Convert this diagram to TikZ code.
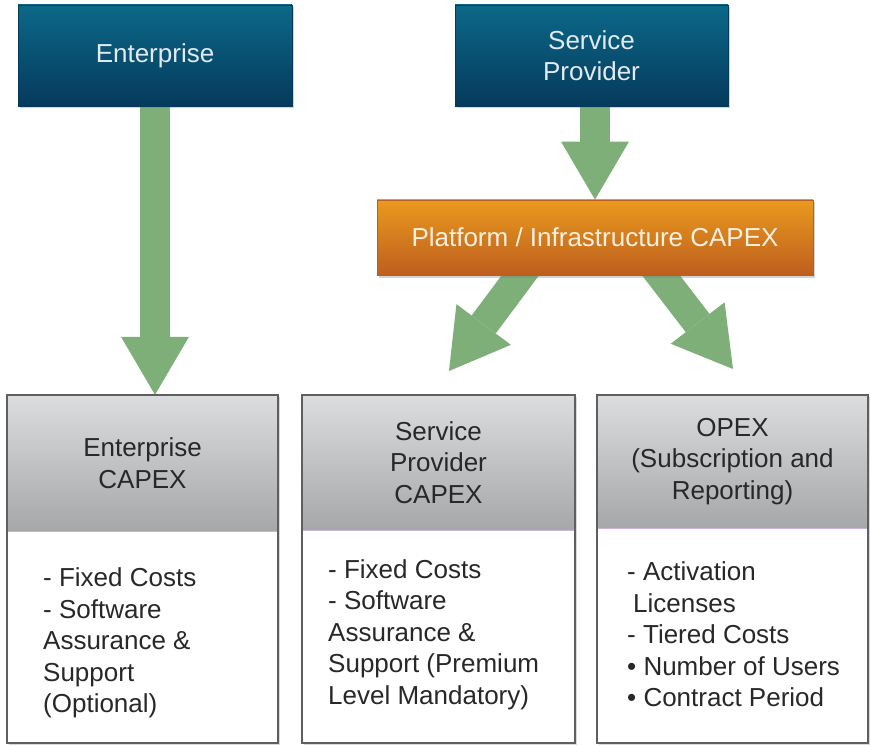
\documentclass[tikz,border=0pt]{standalone}
\usepackage{fontspec}
\setmainfont{Liberation Sans}
\usetikzlibrary{arrows.meta,shadows,calc}
\pgfdeclarelayer{background}
\pgfsetlayers{background,main}
\definecolor{tealtop}{RGB}{12,104,136}
\definecolor{tealbot}{RGB}{5,58,92}
\definecolor{toptext}{RGB}{226,234,240}
\definecolor{orangetop}{RGB}{233,154,30}
\definecolor{orangebot}{RGB}{190,94,30}
\definecolor{plattext}{RGB}{250,240,225}
\definecolor{hdrtop}{RGB}{220,221,223}
\definecolor{hdrbot}{RGB}{166,167,169}
\definecolor{boxedge}{RGB}{95,95,98}
\definecolor{sepline}{RGB}{205,180,215}
\definecolor{arrowgreen}{RGB}{126,175,121}
\definecolor{darktext}{RGB}{40,40,40}
\newcommand\dfont{\fontsize{26}{31.5}\selectfont}
\tikzset{
  topbox/.style={rectangle, inner sep=0pt, top color=tealtop, bottom color=tealbot,
    draw=tealbot, line width=0.8pt, text=toptext, font=\dfont, align=center,
    drop shadow={opacity=0.35, shadow xshift=2pt, shadow yshift=-2.5pt}},
  platbox/.style={rectangle, inner sep=0pt, top color=orangetop, bottom color=orangebot,
    draw=orangebot, line width=0.8pt, text=plattext, font=\dfont, align=center,
    drop shadow={opacity=0.35, shadow xshift=2pt, shadow yshift=-2.5pt}},
  outerbox/.style={rectangle, inner sep=0pt, fill=white,
    drop shadow={opacity=0.3, shadow xshift=2pt, shadow yshift=-2pt}},
  hdrbox/.style={rectangle, inner sep=0pt, top color=hdrtop, bottom color=hdrbot,
    text=darktext, font=\dfont, align=center, anchor=north},
  bodytext/.style={inner sep=0pt, text=darktext, font=\dfont, align=left, anchor=west},
  edge/.style={draw=boxedge, line width=1.5pt},
  fat/.style={draw=arrowgreen, line width=30pt,
    -{Triangle[width=68pt,length=58pt,line width=0pt]}}
}
\begin{document}
\begin{tikzpicture}[x=1pt,y=-1pt]
\useasboundingbox (0,0) rectangle (870,746);
% top boxes
\node[topbox, minimum width=274pt, minimum height=101pt] (ent) at (155,55.5) {Enterprise};
\node[topbox, minimum width=273pt, minimum height=101pt] (sp) at (591.5,55.5) {Service\\Provider};
\node[platbox, minimum width=436pt, minimum height=75pt] (plat) at (595,237.5) {Platform / Infrastructure CAPEX};
% bottom boxes
\node[outerbox, minimum width=271pt, minimum height=348pt] (ecap) at (142.5,569) {};
\node[outerbox, minimum width=273pt, minimum height=348pt] (scap) at (438.5,569) {};
\node[outerbox, minimum width=271pt, minimum height=348pt] (opex) at (732.5,569) {};
\node[hdrbox, minimum width=271pt, minimum height=136pt] (ecaph) at (ecap.north) {Enterprise\\CAPEX};
\node[hdrbox, minimum width=273pt, minimum height=135pt] (scaph) at (scap.north) {Service\\Provider\\CAPEX};
\node[hdrbox, minimum width=271pt, minimum height=133pt] (opexh) at (opex.north) {OPEX\\(Subscription and\\Reporting)};
\foreach \b in {ecap,scap,opex}{
  \draw[sepline, line width=0.8pt] (\b h.south west) -- (\b h.south east);
  \draw[edge] (\b.north west) rectangle (\b.south east);
}
\node[bodytext] (ecapb) at (43,643) {- Fixed Costs\\- Software\\Assurance \&\\Support\\(Optional)};
\node[bodytext] (scapb) at (328,634.5) {- Fixed Costs\\- Software\\Assurance \&\\Support (Premium\\Level Mandatory)};
\node[bodytext] (opexb) at (627,634.5) {- Activation\\\hspace*{6pt}Licenses\\- Tiered Costs\\\textbullet\ Number of Users\\\textbullet\ Contract Period};
% arrows
\coordinate (ls) at ($(plat.south)+(-65,-13)$);
\coordinate (ltip) at (449,371);
\coordinate (rs) at ($(plat.south)+(56,-13)$);
\coordinate (rtip) at (733,369);
\begin{pgfonlayer}{background}
\draw[fat] ($(ent.south)+(0,-5)$) -- (ent.south |- ecap.north);
\draw[fat] ($(sp.south -| plat.north)+(0,-5)$) -- (plat.north);
\draw[fat] (ls) -- (ltip);
\draw[fat] (rs) -- (rtip);
\end{pgfonlayer}
\end{tikzpicture}
\end{document}
